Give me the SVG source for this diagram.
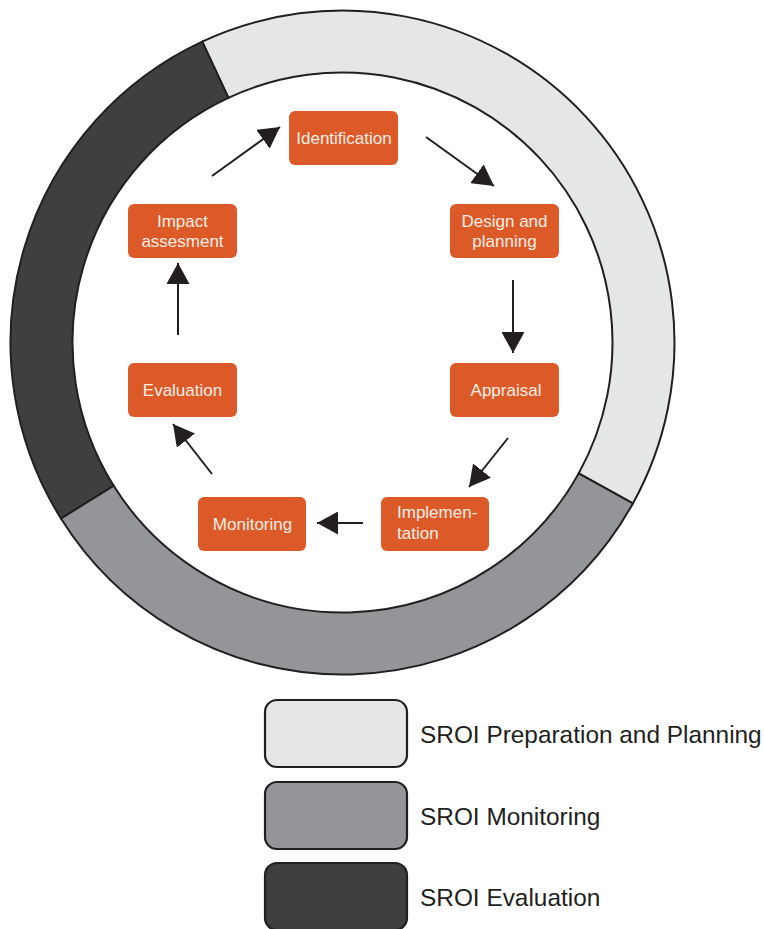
<svg xmlns="http://www.w3.org/2000/svg" width="764" height="929" viewBox="0 0 764 929">
  <style>
    .ring { stroke: #231f20; stroke-width: 2; stroke-linejoin: miter; }
    .prep { fill: #e5e6e8; }
    .mon { fill: #939598; }
    .eval { fill: #3f3f3f; }
    .step rect { fill: #dc5a27; }
    .step text { fill: #fdeee6; font-family: "Liberation Sans", Arial, sans-serif; font-size: 17px; text-anchor: middle; }
    .step text.left { text-anchor: start; }
    .conn line { stroke: #231f20; stroke-width: 2; marker-end: url(#head); }
    .legend rect { stroke: #231f20; stroke-width: 2.2; }
    .legend text { fill: #231f20; font-family: "Liberation Sans", Arial, sans-serif; font-size: 24.4px; }
  </style>
  <defs>
    <marker id="head" markerUnits="userSpaceOnUse" markerWidth="22" markerHeight="23" refX="21" refY="11.5" orient="auto" viewBox="0 0 22 23">
      <path d="M0,0 L21,11.5 L0,23 Z" fill="#231f20"/>
    </marker>
  </defs>

  <rect width="764" height="929" fill="#ffffff"/>

  <!-- phase ring -->
  <g id="ring">
    <path class="ring prep" d="M202.19,41.61 A332,332 0 0 1 632.87,503.46 L578.65,473.40 A270,270 0 0 0 228.39,97.80 Z"/>
    <path class="ring mon" d="M632.87,503.46 A332,332 0 0 1 60.95,518.43 L113.53,485.58 A270,270 0 0 0 578.65,473.40 Z"/>
    <path class="ring eval" d="M60.95,518.43 A332,332 0 0 1 202.19,41.61 L228.39,97.80 A270,270 0 0 0 113.53,485.58 Z"/>
  </g>

  <!-- process steps -->
  <g id="identification" class="step">
    <rect x="289" y="111" width="109" height="54" rx="6"/>
    <text x="344" y="144">Identification</text>
  </g>
  <g id="design" class="step">
    <rect x="450" y="204" width="109" height="54" rx="6"/>
    <text x="504.5" y="227">Design and</text>
    <text x="504.5" y="247">planning</text>
  </g>
  <g id="appraisal" class="step">
    <rect x="450" y="363" width="109" height="54" rx="6"/>
    <text x="506" y="396">Appraisal</text>
  </g>
  <g id="implementation" class="step">
    <rect x="381" y="497" width="108" height="54" rx="6"/>
    <text class="left" x="397" y="518">Implemen-</text>
    <text class="left" x="397" y="539">tation</text>
  </g>
  <g id="monitoring" class="step">
    <rect x="198" y="497" width="108" height="54" rx="6"/>
    <text x="252.5" y="530">Monitoring</text>
  </g>
  <g id="evaluation" class="step">
    <rect x="128" y="363" width="109" height="54" rx="6"/>
    <text x="182.5" y="396">Evaluation</text>
  </g>
  <g id="impact" class="step">
    <rect x="128" y="204" width="109" height="54" rx="6"/>
    <text x="182.5" y="227">Impact</text>
    <text x="182.5" y="247">assesment</text>
  </g>

  <!-- connectors -->
  <g id="connectors" class="conn">
    <line x1="212" y1="176" x2="280" y2="127"/>
    <line x1="426" y1="137" x2="494" y2="186"/>
    <line x1="513" y1="280" x2="513" y2="353"/>
    <line x1="508" y1="438" x2="469" y2="487"/>
    <line x1="363" y1="523" x2="317" y2="523"/>
    <line x1="212" y1="474" x2="173" y2="424"/>
    <line x1="178" y1="335" x2="178" y2="263"/>
  </g>

  <!-- legend -->
  <g id="legend-prep" class="legend">
    <rect class="prep" x="265" y="700" width="142" height="67" rx="12"/>
    <text x="420" y="743">SROI Preparation and Planning</text>
  </g>
  <g id="legend-mon" class="legend">
    <rect class="mon" x="265" y="782" width="142" height="67" rx="12"/>
    <text x="420" y="825">SROI Monitoring</text>
  </g>
  <g id="legend-eval" class="legend">
    <rect class="eval" x="265" y="863" width="142" height="67" rx="12"/>
    <text x="420" y="906">SROI Evaluation</text>
  </g>
</svg>
